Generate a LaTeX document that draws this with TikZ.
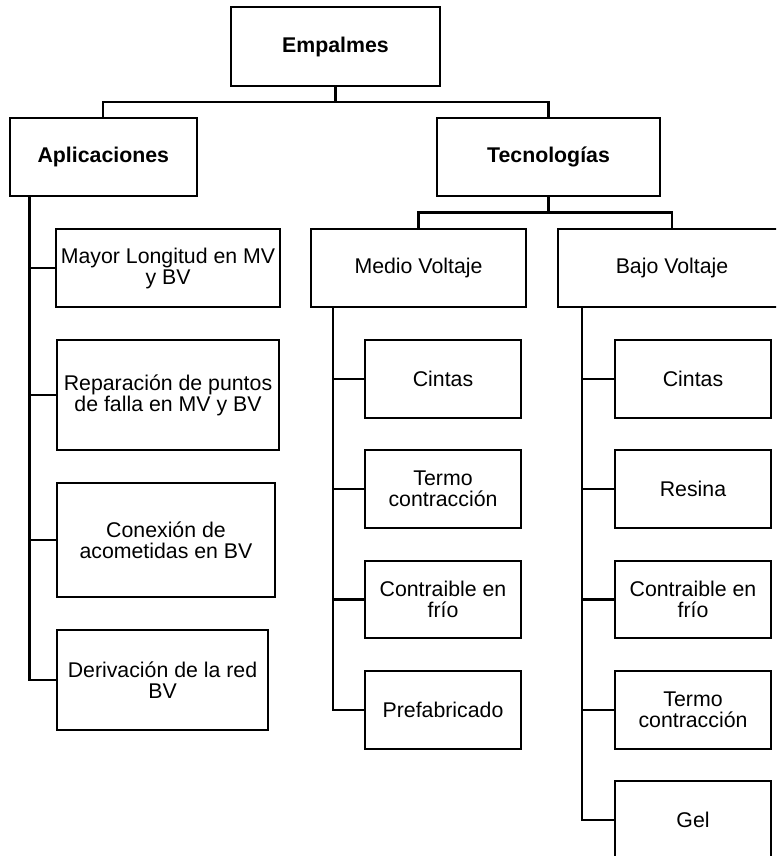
\documentclass[tikz,border=0pt]{standalone}
\usepackage{fontspec}
\setmainfont{Liberation Sans}
\begin{document}
\begin{tikzpicture}[x=1pt,y=-1pt,
  box/.style={draw, line width=2.2pt, inner sep=0pt, align=center,
    font=\fontsize{21.3}{21}\selectfont, anchor=center},
  conn/.style={line width=2.2pt}]
\useasboundingbox (0,0) rectangle (776,856);
\clip (0,0) rectangle (776,856);
% top levels
\node[box, minimum width=209pt, minimum height=79pt, font=\fontsize{21.3}{21}\selectfont\bfseries] (emp) at (335.5,46.5) {Empalmes};
\node[box, minimum width=187pt, minimum height=78pt, font=\fontsize{21.3}{21}\selectfont\bfseries] (apl) at (103.3,157) {Aplicaciones};
\node[box, minimum width=223pt, minimum height=78pt, font=\fontsize{21.3}{21}\selectfont\bfseries] (tec) at (548.5,157) {Tecnologías};
\node[box, minimum width=215pt, minimum height=78pt] (mv) at (418.5,268) {Medio Voltaje};
\node[box, minimum width=228pt, minimum height=78pt] (bv) at (672,268) {Bajo Voltaje};
% applications
\node[box, minimum width=224pt, minimum height=78pt] (a1) at (168,268) {Mayor Longitud en MV\\y BV};
\node[box, minimum width=222pt, minimum height=110pt] (a2) at (168,395) {Reparación de puntos\\de falla en MV y BV};
\node[box, minimum width=218pt, minimum height=114pt] (a3) at (166,540) {Conexión de\\acometidas en BV};
\node[box, minimum width=211pt, minimum height=100pt] (a4) at (162.5,680) {Derivación de la red\\BV};
% medio voltaje
\node[box, minimum width=156pt, minimum height=77.5pt] (m1) at (443,379) {Cintas};
\node[box, minimum width=156pt, minimum height=77.5pt] (m2) at (443,489) {Termo\\contracción};
\node[box, minimum width=156pt, minimum height=77.5pt] (m3) at (443,599.5) {Contraible en\\frío};
\node[box, minimum width=156pt, minimum height=77.5pt] (m4) at (443,710) {Prefabricado};
% bajo voltaje
\node[box, minimum width=156pt, minimum height=77.5pt] (b1) at (693,379) {Cintas};
\node[box, minimum width=156pt, minimum height=77.5pt] (b2) at (693,489) {Resina};
\node[box, minimum width=156pt, minimum height=77.5pt] (b3) at (693,599.5) {Contraible en\\frío};
\node[box, minimum width=156pt, minimum height=77.5pt] (b4) at (693,710) {Termo\\contracción};
\node[box, minimum width=156pt, minimum height=77.5pt] (b5) at (693,820) {Gel};
% connectors
\coordinate (bus1) at (335.5,102);
\coordinate (bus2) at (548.5,212.5);
\draw[conn] (emp.south) -- (bus1) -| (apl.north);
\draw[conn] (bus1) -| (tec.north);
\draw[conn] (tec.south) -- (bus2) -| (mv.north);
\draw[conn] (bus2) -| (bv.north);
\coordinate (at) at (29.5,196);
\draw[conn] (at) |- (a4.west);
\foreach \n in {a1,a2,a3} \draw[conn] (at |- \n.west) -- (\n.west);
\coordinate (mt) at (333,307);
\draw[conn] (mt) |- (m4.west);
\foreach \n in {m1,m2,m3} \draw[conn] (mt |- \n.west) -- (\n.west);
\coordinate (bt) at (581.7,307);
\draw[conn] (bt) |- (b5.west);
\foreach \n in {b1,b2,b3,b4} \draw[conn] (bt |- \n.west) -- (\n.west);
\end{tikzpicture}
\end{document}
